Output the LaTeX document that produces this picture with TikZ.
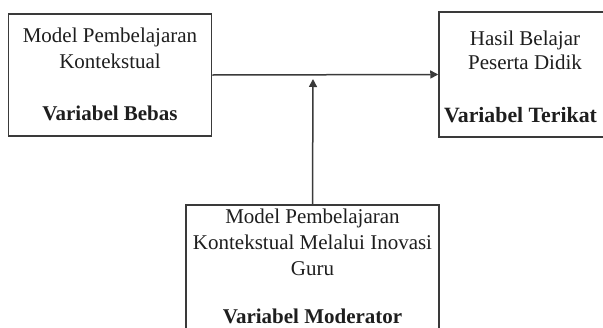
\documentclass[tikz,border=0pt]{standalone}
\usepackage{fontspec}
\setmainfont{Liberation Serif}
\usetikzlibrary{arrows.meta}
\definecolor{ink}{HTML}{1E1E1E}
\definecolor{edge}{HTML}{3A3A3A}
\begin{document}
\begin{tikzpicture}[x=1pt,y=-1pt,
  box/.style={draw=edge,line width=1.5pt,fill=white,inner sep=0pt},
  lbl/.style={text=ink,inner sep=0pt,anchor=base,font=\fontsize{21}{26}\selectfont},
  blbl/.style={lbl,font=\fontsize{21}{26}\selectfont\bfseries},
  conn/.style={draw=edge,line width=1.5pt,-{Triangle[length=8pt,width=8pt]}}]
\useasboundingbox (0,0) rectangle (603,327);
\clip (0,0) rectangle (603,327);
\fill[white] (0,0) rectangle (603,327);
% boxes
\node[box,minimum width=203,minimum height=122] (bebas) at (110,75) {};
\node[box,minimum width=186,minimum height=125] (terikat) at (532,74.5) {};
\node[box,minimum width=253,minimum height=140] (moderator) at (312.5,275) {};
% texts
\node[lbl] (b1) at (110,42) {Model Pembelajaran};
\node[lbl] (b2) at (110,68) {Kontekstual};
\node[blbl] (b3) at (110,120) {Variabel Bebas};
\node[lbl] (t1) at (525,45) {Hasil Belajar};
\node[lbl] (t2) at (525,69) {Peserta Didik};
\node[blbl,font=\fontsize{21.8}{27}\selectfont\bfseries] (t3) at (520.5,122) {Variabel Terikat};
\node[lbl] (m1) at (312.5,223) {Model Pembelajaran};
\node[lbl] (m2) at (312.5,249) {Kontekstual Melalui Inovasi};
\node[lbl] (m3) at (312.5,275) {Guru};
\node[blbl] (m4) at (312.5,323) {Variabel Moderator};
% connectors
\coordinate (tip) at (313,79);
\draw[conn] (bebas.east) -- (terikat.west);
\draw[conn] (moderator.north) -- (tip);
\end{tikzpicture}
\end{document}
